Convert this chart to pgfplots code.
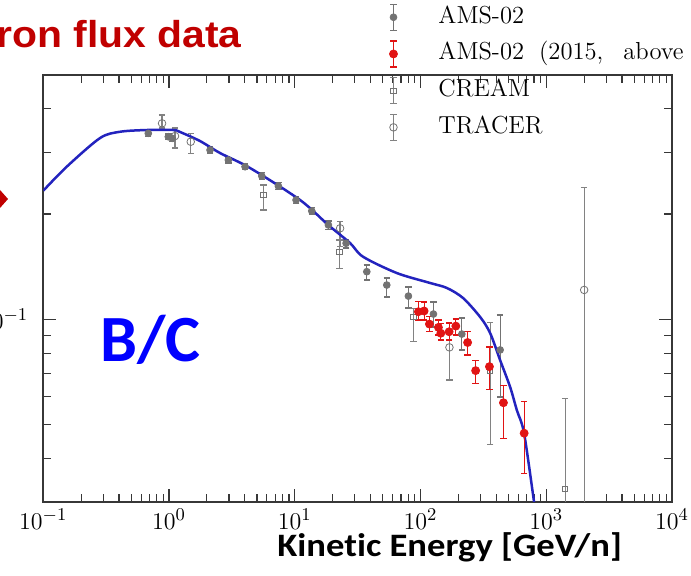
\documentclass[border=0pt]{standalone}
\usepackage{pgfplots}
\pgfplotsset{compat=1.18}
\usepackage{pgfplotstable}
\usepackage{graphicx}
\usepackage{fontspec}
\newfontfamily\headfont{Liberation Sans}
\newfontfamily\slidefont{Carlito}[Ligatures={NoCommon,NoRequired,NoContextual}]

\definecolor{titlered}{RGB}{192,0,0}
\definecolor{curveblue}{RGB}{35,35,190}
\definecolor{amsgray}{RGB}{115,115,115}
\definecolor{bargray}{RGB}{130,130,130}
\definecolor{amsred}{RGB}{225,20,20}
\definecolor{bcblue}{RGB}{0,0,255}
\definecolor{framegray}{RGB}{55,55,55}

\newcommand\plotfont{\fontsize{12.3}{14}\selectfont}

% B/C ratio: kinetic energy [GeV/n], value, upper and lower end of the error bar
\pgfplotstableread{
E      y       hi      lo
0.684  0.3404  0.3470  0.3340
0.987  0.3329  0.3390  0.3270
1.062  0.3294  0.3360  0.3230
2.120  0.3050  0.3110  0.2990
2.963  0.2855  0.2910  0.2800
4.023  0.2732  0.2790  0.2680
5.464  0.2570  0.2630  0.2510
7.404  0.2405  0.2460  0.2350
10.24  0.2194  0.2250  0.2140
13.65  0.2041  0.2090  0.1990
18.51  0.1861  0.1910  0.1810
25.59  0.1650  0.1685  0.1600
37.40  0.1368  0.1430  0.1295
53.90  0.1253  0.1312  0.1158
80.10  0.1165  0.1237  0.1077
126.7  0.1035  0.1120  0.0950
213.1  0.0907  0.1008  0.0817
429.8  0.0817  0.1028  0.0599
}\amsdata

\pgfplotstableread{
E      y       hi      lo
96.2   0.1051  0.1122  0.0995
106.8  0.1056  0.1120  0.0995
117.7  0.0969  0.1017  0.0921
138.8  0.0948  0.0995  0.0901
145.0  0.0912  0.0974  0.0872
168.9  0.0921  0.0976  0.0872
190.9  0.0956  0.1002  0.0901
236.9  0.0858  0.0921  0.0790
274.4  0.0713  0.0764  0.0656
353.3  0.0732  0.0833  0.0628
456.5  0.0577  0.0648  0.0456
667.2  0.0472  0.0581  0.0362
}\amsnewdata

\pgfplotstableread{
E      y       hi      lo
5.627  0.2267  0.2421  0.2054
22.63  0.1561  0.1685  0.1399
87.8   0.1017  0.1075  0.0863
357.8  0.0711  0.0977  0.0439
1414   0.0327  0.0594  0.0200
}\creamdata

\pgfplotstableread{
E      y       hi      lo
0.880  0.3636  0.3842  0.3526
1.116  0.3344  0.3526  0.3090
1.488  0.3221  0.3404  0.2985
22.93  0.1821  0.1901  0.1613
169.8  0.0831  0.0931  0.0670
2002   0.1213  0.2378  0.0200
}\tracerdata

% model prediction
\pgfplotstableread{
E      y
0.1    0.2333
0.1535 0.2732
0.2826 0.3300
0.4076 0.3440
0.668  0.3480
1.076  0.3480
1.223  0.3435
1.764  0.3236
2.545  0.2990
4.41   0.2709
11.02  0.2194
18.5   0.1860
27.5   0.1653
34.9   0.1510
64.8   0.1356
119.2  0.1270
162    0.1229
218    0.1150
298    0.1015
357.8  0.0913
429.6  0.0764
516    0.0640
583    0.0550
666    0.0472
800    0.0300
830    0.0275
}\modeldata

\pgfplotsset{
  errpts/.style={only marks, forget plot,
    error bars/.cd, y dir=both, y explicit,
    error bar style={line width=0.6pt},
    error mark options={line width=0.6pt, mark size=1.6pt, rotate=90}},
  ams/.style={color=amsgray, mark=*, mark size=1.7pt, mark options={fill=amsgray, draw=amsgray}},
  amsnew/.style={color=amsred, mark=*, mark size=2pt, mark options={fill=amsred, draw=amsred}},
  cream/.style={color=bargray, mark=square, mark size=1.3pt, mark options={fill=white, draw=amsgray}},
  tracer/.style={color=bargray, mark=o, mark size=1.9pt, mark options={fill=white, draw=amsgray}},
}

\begin{document}
\begin{tikzpicture}
\useasboundingbox (0pt,0pt) rectangle (345.5pt,288pt);
\clip (0pt,0pt) rectangle (345.5pt,288pt);

% slide decorations
\node[anchor=base east, inner sep=0pt, text=titlered] at (121pt,264.15pt)
  {\scalebox{1.09}[1]{\headfont\bfseries\fontsize{18.75}{20}\selectfont Positron flux data}};
\fill[titlered] (-10pt,204.25pt) -- (4pt,188.5pt) -- (-10pt,172.75pt) -- cycle;

\begin{axis}[
  at={(21.65pt,37pt)}, anchor=south west,
  scale only axis, width=314.35pt, height=213.5pt,
  xmode=log, ymode=log,
  xmin=0.1, xmax=10000, ymin=0.03, ymax=0.5,
  xtick={0.1,1,10,100,1000,10000},
  xticklabels={$10^{-1}$,$10^{0}$,$10^{1}$,$10^{2}$,$10^{3}$,$10^{4}$},
  minor xtick={0.2,0.3,0.4,0.5,0.6,0.7,0.8,0.9,
    2,3,4,5,6,7,8,9,20,30,40,50,60,70,80,90,
    200,300,400,500,600,700,800,900,2000,3000,4000,5000,6000,7000,8000,9000},
  ytick={0.1}, yticklabels={$10^{-1}$},
  minor ytick={0.04,0.05,0.06,0.07,0.08,0.09,0.2,0.3,0.4},
  tick align=inside, tick pos=both,
  xticklabel pos=lower, yticklabel pos=left,
  major tick length=6.5pt, minor tick length=3.8pt,
  every tick/.style={framegray, line width=0.6pt},
  axis line style={framegray, line width=0.9pt},
  tick label style={font=\plotfont},
  yticklabel style={xshift=-4pt},
  legend style={draw=none, fill=none, at={(0.55,1.168)}, anchor=north west,
    font=\plotfont, inner sep=0pt, row sep=4.75pt, column sep=0pt,
    nodes={inner sep=0pt, text height=9pt, text depth=3pt}},
  legend cell align=left,
  legend image code/.code={
    \draw[mark=none, line width=0.6pt] (0pt,-6.5pt) -- (0pt,6.5pt);
    \draw[mark=none, line width=0.6pt] (-1.6pt,-6.5pt) -- (1.6pt,-6.5pt)
      (-1.6pt,6.5pt) -- (1.6pt,6.5pt);
    \draw plot coordinates {(0pt,0pt)};
    \path[draw=none] (0pt,0pt) -- (22.5pt,0pt);
  },
]
\addplot[ams, errpts] table[x=E, y=y,
  y error plus expr=\thisrow{hi}-\thisrow{y},
  y error minus expr=\thisrow{y}-\thisrow{lo}] {\amsdata};
\addplot[cream, errpts] table[x=E, y=y,
  y error plus expr=\thisrow{hi}-\thisrow{y},
  y error minus expr=\thisrow{y}-\thisrow{lo}] {\creamdata};
\addplot[tracer, errpts] table[x=E, y=y,
  y error plus expr=\thisrow{hi}-\thisrow{y},
  y error minus expr=\thisrow{y}-\thisrow{lo}] {\tracerdata};
\addplot[curveblue, line width=1.25pt, smooth, tension=0.5, forget plot]
  table[x=E, y=y] {\modeldata};
\addplot[amsnew, errpts] table[x=E, y=y,
  y error plus expr=\thisrow{hi}-\thisrow{y},
  y error minus expr=\thisrow{y}-\thisrow{lo}] {\amsnewdata};

\addlegendimage{ams}
\addlegendentry{AMS-02}
\addlegendimage{amsnew}
\addlegendentry{AMS-02\hspace{3.5pt} (2015,\hspace{6pt} above 100 GeV/n)}
\addlegendimage{cream}
\addlegendentry{CREAM}
\addlegendimage{tracer}
\addlegendentry{TRACER}
\end{axis}

\node[anchor=base west, inner sep=0pt, text=bcblue] at (50pt,107pt)
  {\slidefont\bfseries\fontsize{33}{36}\selectfont B/C};
\node[anchor=base west, inner sep=0pt] at (138.5pt,9.5pt)
  {\scalebox{1.12}[1]{\slidefont\bfseries\fontsize{16.35}{18}\selectfont Kinetic Energy [GeV/n]}};
\end{tikzpicture}
\end{document}
